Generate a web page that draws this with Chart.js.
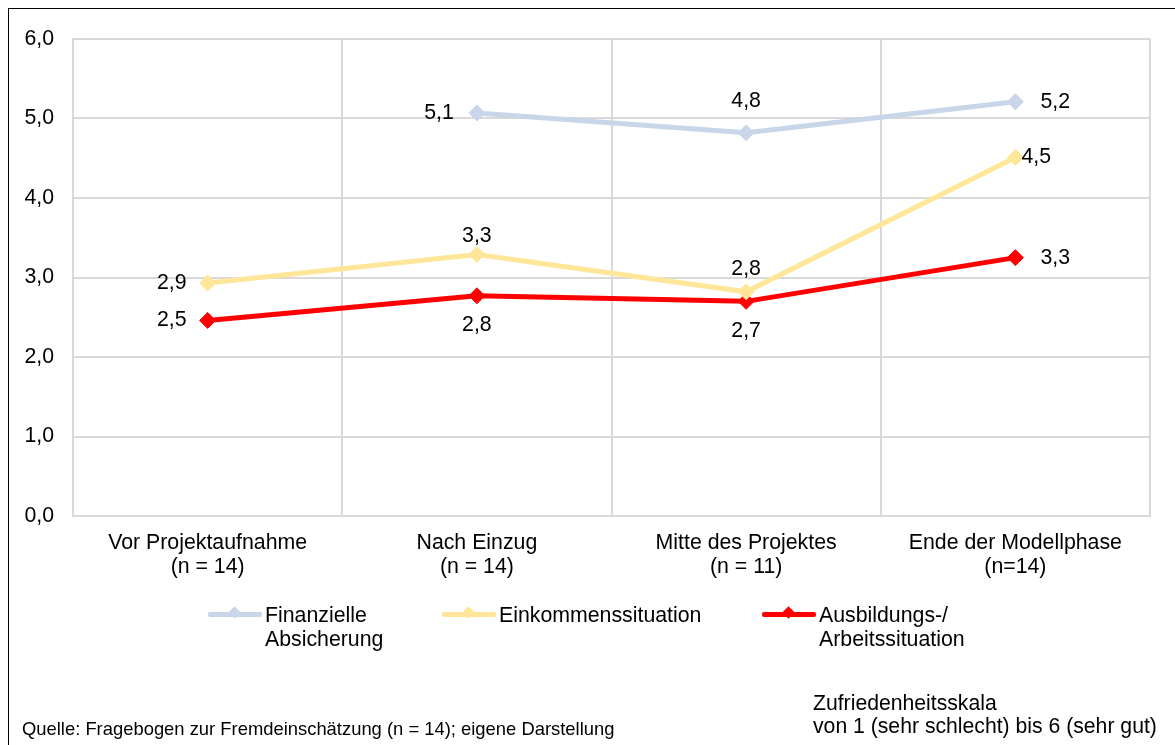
<!DOCTYPE html>
<html lang="de">
<head>
<meta charset="utf-8">
<script src="https://cdn.jsdelivr.net/npm/chart.js@4/dist/chart.umd.min.js"></script>
<style>
    html, body { margin: 0; padding: 0; background: #fff; }
    body { width: 1175px; height: 745px; position: relative; overflow: hidden;
           font-family: "Liberation Sans", Arial, sans-serif; color: #000; }
    #frame { position: absolute; left: 8px; top: 8px; width: 1190px; height: 780px;
             border: 1px solid #000; box-sizing: border-box; }
    #wrap { position: absolute; left: 0; top: 0; width: 1175px; height: 745px; }
    .legend-item { position: absolute; top: 603px; font-size: 21.3px; line-height: 24px; }
    .legend-item .sample { position: absolute; top: 9px; height: 5px; border-radius: 2px; }
    .legend-item .dot { position: absolute; top: 5px; width: 9px; height: 9px; transform: rotate(45deg); }
    .legend-item .txt { position: absolute; white-space: nowrap; }
    #source { position: absolute; left: 22px; top: 718px; font-size: 18.4px; white-space: nowrap; }
    #scale { position: absolute; left: 813px; top: 691px; font-size: 21.2px; line-height: 23px; white-space: nowrap; }
</style>
</head>
<body>
<div id="frame"></div>
<div id="wrap"><canvas id="lineChart" width="1175" height="745"></canvas></div>
<div id="legend"></div>
<div id="source">Quelle: Fragebogen zur Fremdeinschätzung (n = 14); eigene Darstellung</div>
<div id="scale">Zufriedenheitsskala<br>von 1 (sehr schlecht) bis 6 (sehr gut)</div>

<script>
/* ================= DATA ================= */

const categories = [
    ["Vor Projektaufnahme", "(n = 14)"],
    ["Nach Einzug", "(n = 14)"],
    ["Mitte des Projektes", "(n = 11)"],
    ["Ende der Modellphase", "(n=14)"]
];

const seriesNames = [
    ["Finanzielle", "Absicherung"],
    ["Einkommenssituation"],
    ["Ausbildungs-/", "Arbeitssituation"]
];

const finanzielle = [null, 5.07, 4.82, 5.21];
const einkommen   = [2.93, 3.29, 2.82, 4.51];
const ausbildung  = [2.46, 2.77, 2.70, 3.25];

const yTicks = [0, 1, 2, 3, 4, 5, 6];

/* ================= STYLE ================= */

const colors = ["#c9d5e8", "#ffe699", "#ff0000"];
const legendX = [208, 442, 762];

// label offset from point [dx, dy, align]
const labelPlace = [
    [null, [-23, 0, "right"], [0, -32, "center"], [25, 0, "left"]],
    [[-21, 0, "right"], [0, -18, "center"], [0, -23, "center"], [6, 0, "left"]],
    [[-21, 0, "right"], [0, 29, "center"], [0, 30, "center"], [25, 0, "left"]]
];

const FONT = "'Liberation Sans', Arial, sans-serif";
const FSIZE = 21.3;

/* ================= HELPERS ================= */

function fmt(v) {
    return v.toFixed(1).replace(".", ",");
}

function dataset(label, data, color) {
    return {
        label,
        data,
        borderColor: color,
        backgroundColor: color,
        borderWidth: 5,
        pointStyle: "rectRot",
        pointRadius: 8,
        pointHoverRadius: 8,
        pointBorderWidth: 1,
        tension: 0,
        spanGaps: false
    };
}

/* ================= VALUE LABELS ================= */

const valueLabels = {
    id: "valueLabels",
    afterDatasetsDraw(chart) {
        const ctx = chart.ctx;
        ctx.save();
        ctx.font = FSIZE + "px " + FONT;
        ctx.fillStyle = "#000";
        ctx.textBaseline = "middle";
        chart.data.datasets.forEach((ds, di) => {
            const meta = chart.getDatasetMeta(di);
            ds.data.forEach((v, i) => {
                if (v === null) return;
                const p = labelPlace[di][i];
                const pt = meta.data[i];
                ctx.textAlign = p[2];
                ctx.fillText(fmt(v), pt.x + p[0], pt.y + p[1]);
            });
        });
        ctx.restore();
    }
};

/* ================= CHART ================= */

const chart = new Chart(document.getElementById("lineChart"), {
    type: "line",
    data: {
        labels: categories,
        datasets: [
            dataset(seriesNames[0].join(" "), finanzielle, colors[0]),
            dataset(seriesNames[1].join(" "), einkommen, colors[1]),
            dataset(seriesNames[2].join(" "), ausbildung, colors[2])
        ]
    },
    options: {
        responsive: false,
        animation: false,
        devicePixelRatio: 1,
        layout: { padding: { left: 0, right: 25, top: 39, bottom: 159 } },
        plugins: { legend: { display: false }, tooltip: { enabled: false } },
        scales: {
            x: {
                offset: true,
                grid: { offset: true, color: "#d9d9d9", lineWidth: 2, drawTicks: false },
                border: { color: "#d9d9d9", width: 2 },
                ticks: {
                    color: "#000",
                    font: { family: FONT, size: FSIZE, lineHeight: 1.13 },
                    padding: 15,
                    maxRotation: 0,
                    autoSkip: false
                },
                afterFit(scale) { scale.height = 70; }
            },
            y: {
                min: yTicks[0],
                max: yTicks[yTicks.length - 1],
                afterBuildTicks(scale) { scale.ticks = yTicks.map(v => ({ value: v })); },
                grid: { color: "#d9d9d9", lineWidth: 2, drawTicks: false },
                border: { color: "#d9d9d9", width: 2 },
                ticks: {
                    color: "#000",
                    font: { family: FONT, size: FSIZE },
                    padding: 19,
                    callback: v => fmt(v)
                },
                afterFit(scale) { scale.width = 73; }
            }
        }
    },
    plugins: [valueLabels]
});

/* ================= LEGEND ================= */

const legend = document.getElementById("legend");
seriesNames.forEach((name, i) => {
    const item = document.createElement("div");
    item.className = "legend-item";
    item.style.left = legendX[i] + "px";
    item.innerHTML = `
        <div class="sample" style="left:0;width:54px;background:${colors[i]}"></div>
        <div class="dot" style="left:22px;background:${colors[i]}"></div>
        <div class="txt" style="left:57px">${name.join("<br>")}</div>
    `;
    legend.appendChild(item);
});
</script>
</body>
</html>
